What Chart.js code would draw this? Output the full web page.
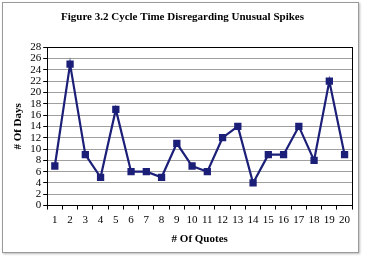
<!DOCTYPE html>
<html>
<head>
<meta charset="utf-8">
<script src="https://cdn.jsdelivr.net/npm/chart.js@4/dist/chart.umd.min.js"></script>
<style>
  html, body { margin: 0; padding: 0; background: #fff; }
  #frame { position: absolute; left: 2px; top: 2px; width: 355px; height: 249px;
           border: 1px solid #9a9a9a; box-shadow: 1px 1px 2px #bbb; }
  #frame canvas { display: block; }
</style>
</head>
<body>
<div id="frame"><canvas id="chart" width="355" height="249"></canvas></div>
<script>
/* ---------------- DATA ---------------- */
const quotes = ["1","2","3","4","5","6","7","8","9","10","11","12","13","14","15","16","17","18","19","20"];
const days   = [7, 25, 9, 5, 17, 6, 6, 5, 11, 7, 6, 12, 14, 4, 9, 9, 14, 8, 22, 9];

const TITLE  = "Figure 3.2 Cycle Time Disregarding Unusual Spikes";
const NAVY   = "#1c1f78";
const SERIF  = "'Liberation Serif', 'DejaVu Serif', serif";

/* plot box border */
const boxPlugin = {
  id: "box",
  afterDraw(chart) {
    const { ctx, chartArea: a } = chart;
    ctx.save();
    ctx.strokeStyle = "#000";
    ctx.lineWidth = 1;
    ctx.strokeRect(Math.round(a.left) + 0.5, Math.round(a.top) + 0.5,
                   Math.round(a.right - a.left), Math.round(a.bottom - a.top));
    ctx.restore();
  }
};

new Chart(document.getElementById("chart"), {
  type: "line",
  data: {
    labels: quotes,
    datasets: [{
      data: days,
      borderColor: NAVY,
      backgroundColor: NAVY,
      borderWidth: 2.2,
      pointStyle: "rect",
      pointRadius: 3.6,
      pointHoverRadius: 3.6,
      tension: 0
    }]
  },
  options: {
    responsive: false,
    animation: false,
    layout: { padding: { left: 9, right: 5, top: 6, bottom: 6 } },
    plugins: {
      legend: { display: false },
      tooltip: { enabled: false },
      title: {
        display: true,
        text: TITLE,
        color: "#000",
        font: { family: SERIF, size: 11, weight: "bold" },
        padding: { top: 2, bottom: 23 }
      }
    },
    scales: {
      x: {
        offset: true,
        grid: { drawOnChartArea: false, drawTicks: true, tickLength: 4, color: "#000", offset: true },
        border: { color: "#000" },
        ticks: { color: "#000", font: { family: SERIF, size: 11 }, padding: 4, maxRotation: 0, autoSkip: false },
        title: { display: true, text: "# Of Quotes", color: "#000",
                 font: { family: SERIF, size: 11, weight: "bold" }, padding: { top: 2, bottom: 0 } }
      },
      y: {
        min: 0, max: 28,
        grid: { color: "#a0a0a0", tickLength: 4, tickColor: "#000" },
        border: { color: "#000" },
        ticks: { stepSize: 2, autoSkip: false, color: "#000", font: { family: SERIF, size: 11 }, padding: 2 },
        title: { display: true, text: "# Of Days", color: "#000",
                 font: { family: SERIF, size: 11, weight: "bold" }, padding: { top: 0, bottom: 3 } }
      }
    }
  },
  plugins: [boxPlugin]
});
</script>
</body>
</html>
